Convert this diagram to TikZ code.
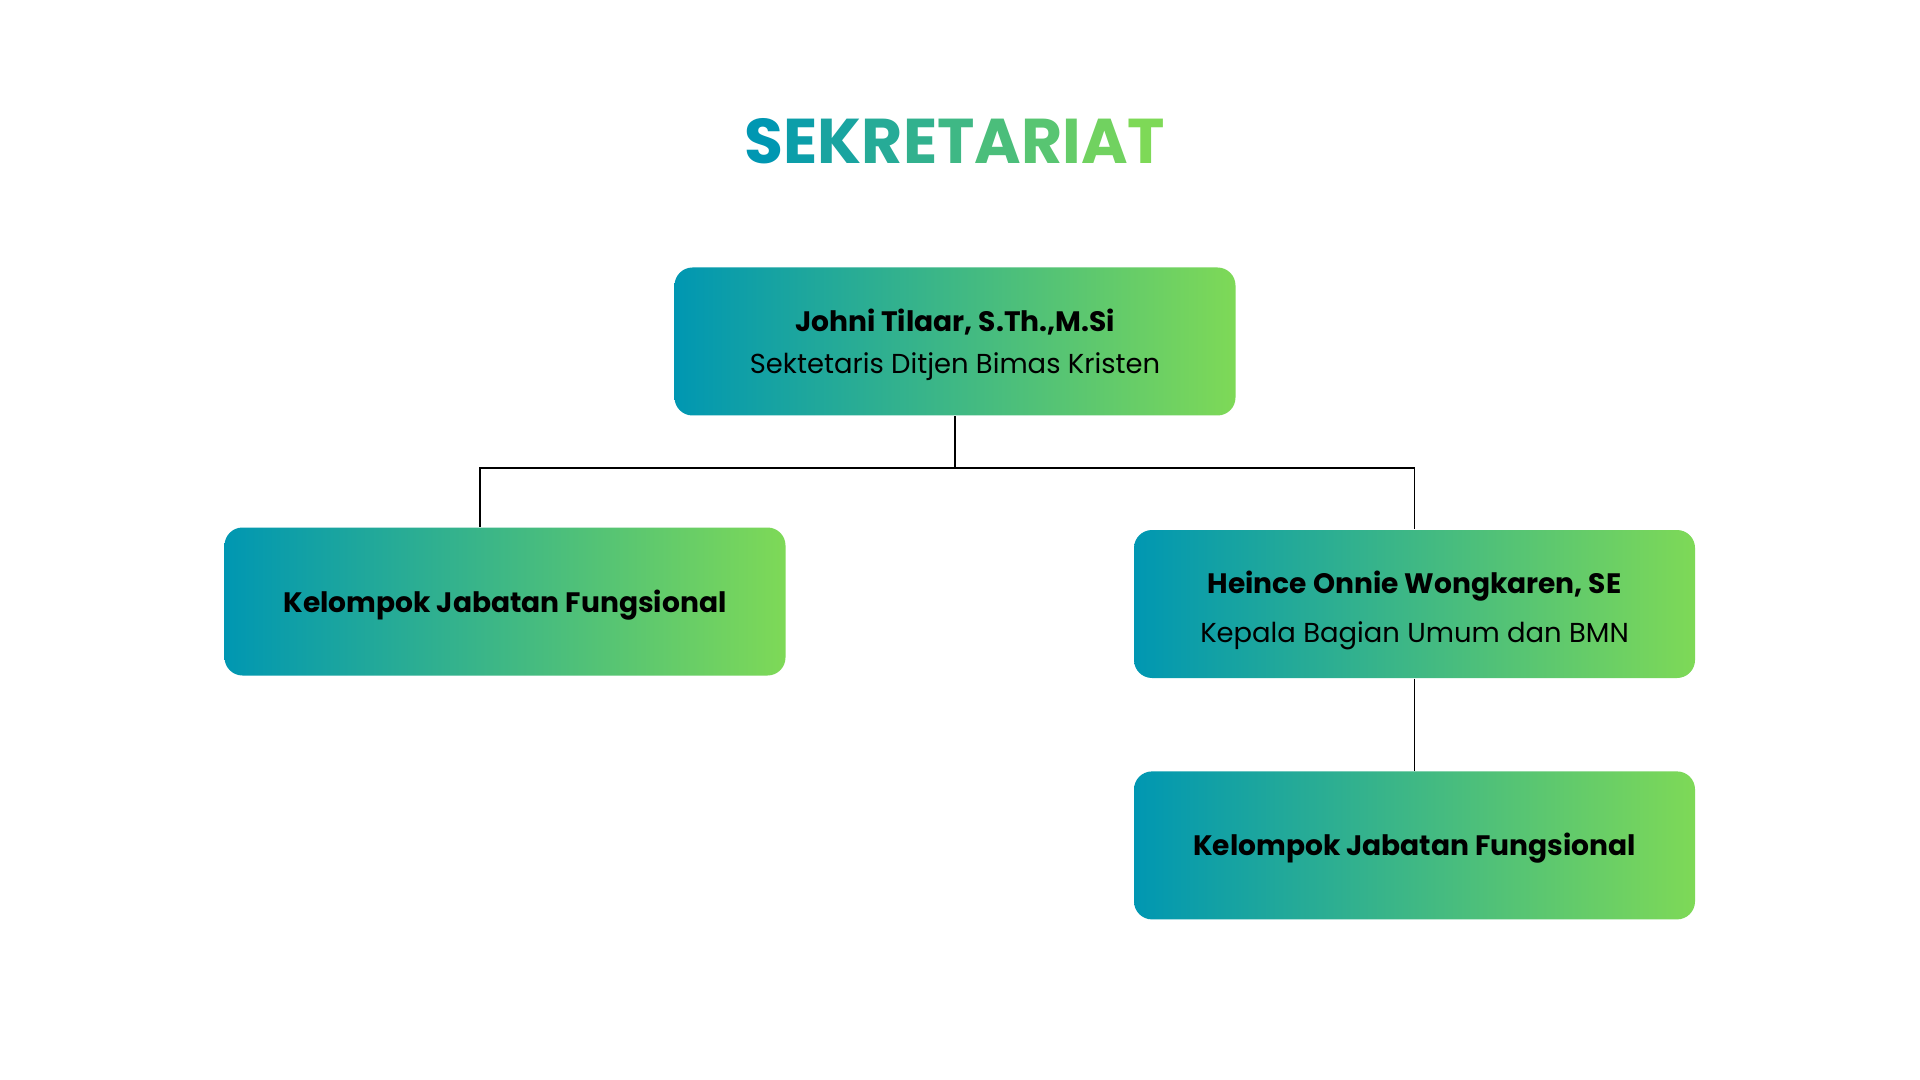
\documentclass[tikz,border=0pt]{standalone}
\usepackage{fontspec}
\setmainfont{Poppins}
\usetikzlibrary{positioning}
\definecolor{gblue}{HTML}{0097B2}
\definecolor{ggreen}{HTML}{7ED957}
\newcommand{\gl}[2]{{\color{ggreen!#1!gblue}#2}}
\newcommand{\lift}[1]{\rule{0pt}{#1}}
\tikzset{
box/.style={rounded corners=0.18cm, left color=gblue, right color=ggreen, minimum width=5.61cm, minimum height=1.48cm, align=center, font=\fontsize{7.8}{9}\selectfont}, % the gradient boxes
tree/.style={draw=black, line width=0.55pt}, % the connecting lines
node distance=0.92cm, % gap between stacked boxes
}
\begin{document}
\begin{tikzpicture}
                \useasboundingbox[fill=white] (0,0) rectangle (19.2,-10.8);

                \node[font=\fontsize{18}{20}\selectfont\bfseries] (title) at (9.55,-1.41)
                    {\gl{0}{S}\gl{10}{E}\gl{20}{K}\gl{30}{R}\gl{40}{E}\gl{50}{T}\gl{60}{A}\gl{70}{R}\gl{80}{I}\gl{90}{A}\gl{100}{T}};

                \node[box] (sek) at (9.55,-3.415) {\lift{8.3pt}\textbf{\fontsize{8}{9}\selectfont Johni Tilaar, S.Th.,M.Si}\\[0.11cm] Sektetaris Ditjen Bimas Kristen};
                \node[box] (kjf1) at (5.05,-6.015) {\lift{8.2pt}\textbf{\fontsize{8}{9}\selectfont Kelompok Jabatan Fungsional}};
                \node[box] (kabag) at (14.145,-6.04) {\lift{10.1pt}\textbf{\fontsize{8}{9}\selectfont Heince Onnie Wongkaren, SE}\\[0.175cm] Kepala Bagian Umum dan BMN};
                \node[box, below=of kabag] (kjf2) {\lift{8.2pt}\textbf{\fontsize{8}{9}\selectfont Kelompok Jabatan Fungsional}};

                \coordinate (bus) at ([yshift=-0.52cm]sek.south);
                \coordinate (kjf1top) at ([xshift=-0.25cm]kjf1.north);

                \draw[tree] (sek.south) -- (bus);
                \draw[tree] (kjf1top) |- (bus) -| (kabag.north);
                \draw[tree] (kabag) -- (kjf2);
            \end{tikzpicture}
\end{document}
